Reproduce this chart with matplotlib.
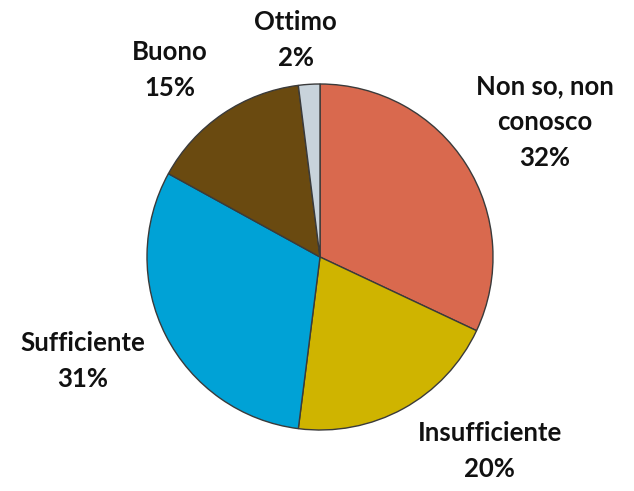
import matplotlib
matplotlib.use("Agg")
import matplotlib.pyplot as plt

categories = ["Non so, non\nconosco", "Insufficiente", "Sufficiente", "Buono", "Ottimo"]
values = [32, 20, 31, 15, 2]
colors = ["#D9694E", "#CFB400", "#00A2D6", "#6A4A10", "#C8D3DB"]

# label positions in pie-radius units
label_pos = [(1.30, 0.78), (0.98, -1.12), (-1.37, -0.60), (-0.87, 1.08), (-0.14, 1.255)]

fig = plt.figure(figsize=(6.34, 4.91), dpi=100)
ax = fig.add_axes([0, 0, 1, 1])
wedges, _ = ax.pie(values, colors=colors, startangle=90, counterclock=False,
                   radius=1.0, center=(0, 0),
                   wedgeprops=dict(edgecolor="#3a3a3a", linewidth=1.0))
ax.set_xlim(-320/173, (634-320)/173)
ax.set_ylim(-234/173, (491-234)/173)
ax.set_aspect("auto")
ax.axis("off")

for cat, v, (x, y) in zip(categories, values, label_pos):
    ax.text(x, y, f"{cat}\n{v}%", ha="center", va="center", fontsize=18.5,
            fontweight="bold", family="Lato", color="#111111", linespacing=1.6)

fig.savefig("out.png", dpi=100)
